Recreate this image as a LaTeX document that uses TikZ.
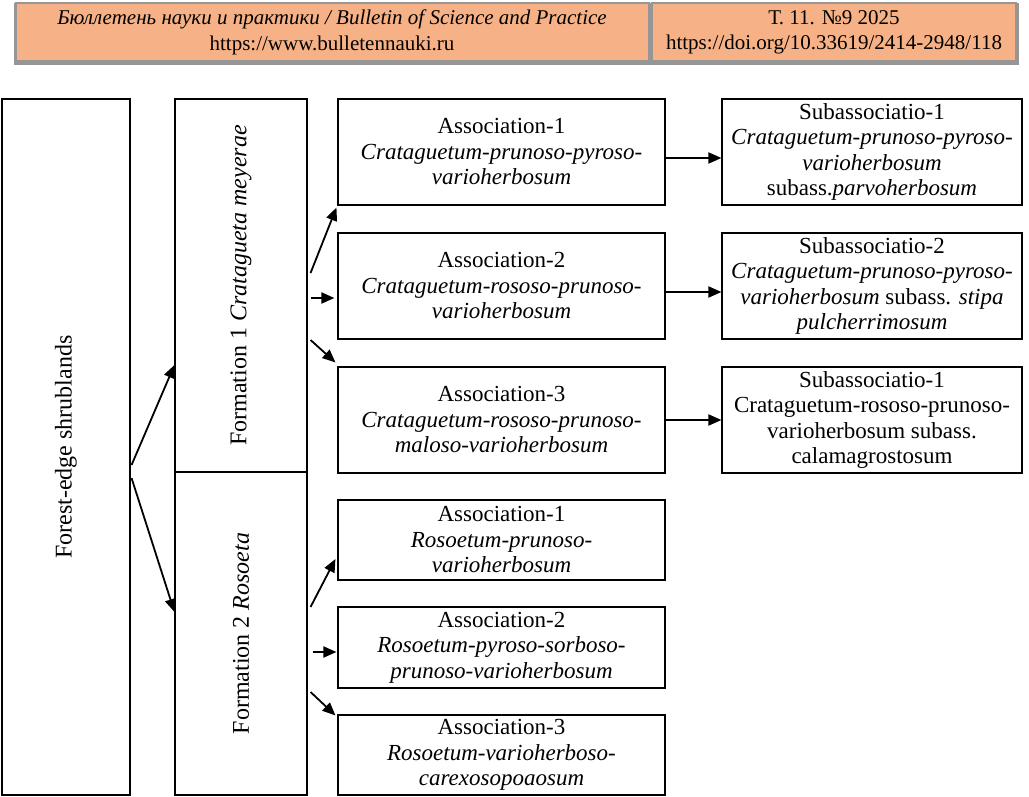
\documentclass[tikz,border=0pt]{standalone}
\usepackage{fontspec}
\setmainfont{Liberation Serif}
\usetikzlibrary{arrows.meta,calc}
\definecolor{salmon}{RGB}{246,178,134}
\definecolor{hgray}{RGB}{150,150,150}
\begin{document}
\begin{tikzpicture}[x=1pt,y=-1pt,
  box/.style={draw, line width=1.1pt, align=center, inner sep=0pt, font=\fontsize{23}{25.5}\selectfont},
  rot/.style={font=\fontsize{24}{26}\selectfont},
  hcell/.style={fill=salmon, draw=hgray, line width=2pt, align=center, inner sep=0pt, font=\fontsize{21}{25.5}\selectfont},
  arr/.style={line width=1.8pt, -{Triangle[length=13pt,width=11pt]}},
]
\useasboundingbox (0,0) rectangle (1029,797);
% header
\fill[hgray] (14,3) rectangle (1019,65);
\node[hcell, minimum width=633, minimum height=58] (H1) at (332,32.5)
  {\textit{Бюллетень науки и практики / Bulletin of Science and Practice}\\https://www.bulletennauki.ru};
\node[hcell, minimum width=364, minimum height=58] (H2) at (834,32.5)
  {Т. 11. №9 2025\\https://doi.org/10.33619/2414-2948/118};
% left columns
\node[box, rot, minimum width=128, minimum height=696] (F) at (66,447)
  {\rotatebox{90}{Forest-edge shrublands}};
\node[box, rot, minimum width=132, minimum height=373] (F1) at (241,285.5)
  {\rotatebox{90}{Formation 1 \textit{Cratagueta meyerae}}};
\node[box, rot, minimum width=132, minimum height=323] (F2) at (241,633.5)
  {\rotatebox{90}{Formation 2 \textit{Rosoeta}}};
% associations
\node[box, minimum width=327, minimum height=106] (A1) at (501.5,152)
  {Association-1\\\textit{Crataguetum-prunoso-pyroso-}\\\textit{varioherbosum}};
\node[box, minimum width=327, minimum height=106] (A2) at (501.5,286)
  {Association-2\\\textit{Crataguetum-rososo-prunoso-}\\\textit{varioherbosum}};
\node[box, minimum width=327, minimum height=106] (A3) at (501.5,420)
  {Association-3\\\textit{Crataguetum-rososo-prunoso-}\\\textit{maloso-varioherbosum}};
\node[box, minimum width=327, minimum height=80] (R1) at (501.5,540)
  {Association-1\\\textit{Rosoetum-prunoso-}\\\textit{varioherbosum}};
\node[box, minimum width=327, minimum height=81] (R2) at (501.5,647.5)
  {Association-2\\\textit{Rosoetum-pyroso-sorboso-}\\\textit{prunoso-varioherbosum}};
\node[box, minimum width=327, minimum height=80] (R3) at (501.5,755)
  {Association-3\\\textit{Rosoetum-varioherboso-}\\\textit{carexosopoaosum}};
% subassociations
\node[box, minimum width=300, minimum height=106] (S1) at (872,152)
  {Subassociatio-1\\\textit{Crataguetum-prunoso-pyroso-}\\\textit{varioherbosum}\\subass.\textit{parvoherbosum}};
\node[box, minimum width=300, minimum height=106] (S2) at (872,286)
  {Subassociatio-2\\\textit{Crataguetum-prunoso-pyroso-}\\\textit{varioherbosum} subass. \textit{stipa}\\\textit{pulcherrimosum}};
\node[box, minimum width=300, minimum height=106] (S3) at (872,420)
  {Subassociatio-1\\Crataguetum-rososo-prunoso-\\varioherbosum subass.\\calamagrostosum};
% arrows
\draw[arr] ($(F.east)+(1,18)$) -- ($(F1.west)+(0,79.5)$);
\draw[arr] ($(F.east)+(1,31)$) -- ($(F2.west)+(0,-21.5)$);
\draw[arr] ($(F1.east)+(3,-12.5)$) -- ($(A1.south west)+(-1,2)$);
\draw[arr] ($(F1.east)+(3,12.5)$) -- ($(A2.west)+(-3,12)$);
\draw[arr] ($(F1.east)+(3,54.5)$) -- ($(A3.north west)+(-2,-4)$);
\draw[arr] ($(F2.east)+(3,-26.5)$) -- ($(R1.west)+(-2,19)$);
\draw[arr] ($(F2.east)+(5,18.5)$) -- ($(R2.west)+(-1,4.5)$);
\draw[arr] ($(F2.east)+(3,58.5)$) -- ($(R3.north west)+(-2,1)$);
\draw[arr] ($(A1.east)+(0,6)$) -- ($(S1.west)+(0,6)$);
\draw[arr] ($(A2.east)+(0,6)$) -- ($(S2.west)+(0,6)$);
\draw[arr] (A3.east) -- (S3.west);
\end{tikzpicture}
\end{document}
